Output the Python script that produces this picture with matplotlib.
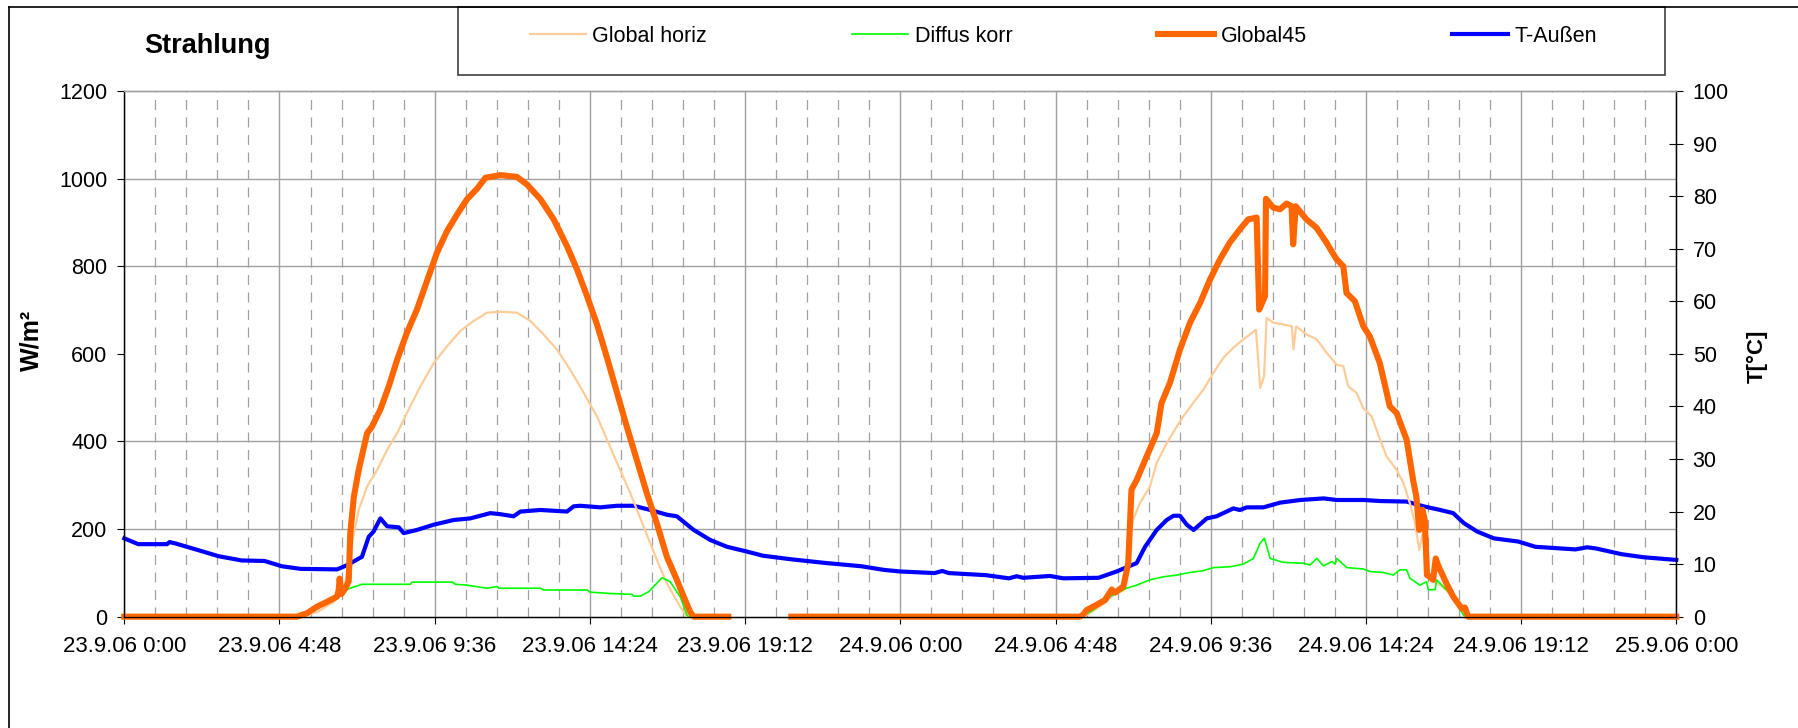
import numpy as np
import matplotlib
matplotlib.use("Agg")
import matplotlib.pyplot as plt
from matplotlib.lines import Line2D
from matplotlib.patches import Rectangle
from matplotlib.ticker import FixedLocator, MultipleLocator

plt.rcParams['font.family'] = ['Liberation Sans', 'DejaVu Sans']

nan = np.nan

# (hours since 23.9.06 0:00, W/m²)
global_horiz = [
    (0.0, 0), (5.5, 0), (6.0, 12), (6.5, 35), (6.8, 60), (6.99, 150), (7.25, 244),
    (7.51, 297), (7.82, 335), (8.13, 381), (8.44, 419), (8.74, 465), (9.16, 526),
    (9.57, 579), (9.98, 617), (10.39, 652), (10.80, 675), (11.22, 694), (11.63, 696),
    (12.14, 694), (12.56, 675), (12.97, 644), (13.38, 610), (13.79, 564), (14.21, 511),
    (14.62, 457), (14.93, 404), (15.24, 351), (15.65, 282), (16.06, 206), (16.47, 130),
    (16.78, 76), (17.19, 23), (17.40, 0), (18.68, 0), (19.6, nan), (20.63, 0),
    (29.6, 0), (29.8, 5), (30.3, 30), (30.6, 50), (30.9, 60), (31.08, 120), (31.14, 200),
    (31.2, 222), (31.41, 259), (31.72, 297), (31.93, 351), (32.24, 396), (32.55, 434),
    (32.75, 457), (33.06, 488), (33.37, 518), (33.68, 556), (33.99, 591), (34.30, 614),
    (34.61, 633), (35.0, 655), (35.13, 522), (35.25, 549), (35.33, 682), (35.54, 671),
    (35.85, 667), (36.11, 663), (36.16, 610), (36.24, 663), (36.57, 644), (36.88, 633),
    (37.19, 602), (37.50, 575), (37.70, 572), (37.85, 526), (38.11, 511), (38.32, 476),
    (38.58, 457), (38.84, 404), (39.04, 366), (39.35, 335), (39.56, 305), (39.76, 259),
    (39.92, 213), (40.05, 152), (40.16, 191), (40.28, 99), (40.49, 84), (40.89, 61),
    (41.2, 30), (41.45, 4), (41.55, 0), (48.0, 0),
]

diffus_korr = [
    (0.0, 0), (5.55, 0), (5.9, 15), (6.2, 30), (6.5, 45), (6.68, 57), (6.99, 65),
    (7.35, 74), (8.85, 74), (8.90, 79), (10.14, 79), (10.24, 74), (10.60, 72),
    (11.22, 65), (11.53, 69), (11.58, 65), (12.87, 65), (12.97, 61), (14.31, 61),
    (14.41, 56), (15.03, 53), (15.70, 51), (15.75, 47), (15.96, 47), (16.22, 57),
    (16.63, 89), (16.88, 80), (17.19, 46), (17.40, 4), (17.45, 0), (18.68, 0),
    (19.6, nan), (20.63, 0), (29.6, 0), (29.9, 12), (30.2, 28), (30.48, 46), (31.0, 65),
    (31.31, 72), (31.72, 84), (32.13, 91), (32.55, 95), (32.96, 101), (33.37, 105),
    (33.68, 112), (34.2, 114), (34.61, 120), (34.92, 133), (35.13, 168), (35.26, 179),
    (35.44, 133), (35.85, 124), (36.47, 122), (36.67, 118), (36.88, 133), (37.09, 116),
    (37.35, 126), (37.45, 120), (37.5, 133), (37.81, 112), (38.32, 109), (38.53, 103),
    (38.94, 101), (39.25, 95), (39.45, 107), (39.66, 107), (39.76, 88), (40.07, 72),
    (40.28, 80), (40.33, 61), (40.54, 62), (40.59, 84), (41.0, 53), (41.42, 4),
    (41.5, 0), (48.0, 0),
]

global45 = [
    (0.0, 0), (5.34, 0), (5.65, 8), (5.96, 23), (6.27, 34), (6.48, 42), (6.58, 46),
    (6.63, 60), (6.66, 87), (6.72, 52), (6.84, 65), (6.94, 81), (6.99, 191), (7.10, 274),
    (7.25, 335), (7.51, 419), (7.66, 434), (7.92, 473), (8.18, 526), (8.44, 587),
    (8.74, 648), (9.05, 701), (9.36, 766), (9.67, 831), (9.98, 880), (10.29, 918),
    (10.60, 953), (10.91, 977), (11.17, 1002), (11.63, 1008), (12.14, 1004), (12.45, 987),
    (12.87, 953), (13.28, 907), (13.69, 846), (14.00, 793), (14.31, 732), (14.62, 667),
    (14.93, 591), (15.24, 511), (15.54, 434), (15.85, 358), (16.16, 282), (16.47, 213),
    (16.78, 137), (17.09, 84), (17.30, 46), (17.50, 11), (17.61, 0), (18.68, 0),
    (19.6, nan), (20.63, 0), (29.55, 0), (29.66, 5), (29.76, 15), (30.07, 27),
    (30.33, 38), (30.54, 62), (30.64, 55), (30.90, 69), (31.05, 122), (31.15, 290),
    (31.31, 312), (31.62, 366), (31.93, 419), (32.08, 488), (32.34, 534), (32.65, 610),
    (32.96, 671), (33.27, 716), (33.58, 770), (33.89, 816), (34.19, 854), (34.50, 884),
    (34.76, 907), (35.02, 911), (35.10, 701), (35.28, 732), (35.31, 954), (35.53, 934),
    (35.74, 930), (35.95, 943), (36.10, 937), (36.15, 850), (36.23, 937), (36.56, 907),
    (36.87, 888), (37.18, 854), (37.49, 816), (37.70, 800), (37.80, 739), (38.06, 720),
    (38.32, 663), (38.52, 640), (38.83, 579), (39.14, 480), (39.35, 465), (39.66, 404),
    (39.86, 312), (39.96, 274), (40.05, 198), (40.15, 244), (40.22, 221), (40.29, 95),
    (40.38, 91), (40.48, 84), (40.56, 133), (40.63, 118), (40.89, 76), (41.10, 46),
    (41.36, 19), (41.46, 21), (41.56, 0), (48.0, 0),
]

# (hours, °C)
t_aussen = [
    (0.0, 14.9), (0.43, 13.8), (1.32, 13.8), (1.40, 14.2), (1.6, 13.9), (2.21, 12.8),
    (2.92, 11.5), (3.63, 10.7), (4.34, 10.6), (4.87, 9.6), (5.45, 9.1), (6.58, 9.0),
    (6.89, 9.8), (7.35, 11.4), (7.56, 15.2), (7.71, 16.2), (7.92, 18.7), (8.13, 17.2),
    (8.49, 17.0), (8.64, 15.9), (9.05, 16.5), (9.57, 17.5), (10.19, 18.4), (10.70, 18.7),
    (11.32, 19.7), (11.63, 19.5), (12.04, 19.1), (12.25, 20.0), (12.87, 20.3),
    (13.69, 20.0), (13.90, 21.0), (14.10, 21.1), (14.72, 20.8), (15.24, 21.1),
    (15.75, 21.1), (16.27, 20.3), (16.78, 19.4), (17.09, 19.1), (17.61, 16.5),
    (18.12, 14.6), (18.64, 13.3), (19.25, 12.4), (19.75, 11.6), (20.65, 10.9),
    (21.72, 10.2), (22.79, 9.6), (23.5, 8.9), (24.0, 8.6), (25.06, 8.3), (25.3, 8.7),
    (25.5, 8.3), (26.65, 7.9), (27.36, 7.3), (27.6, 7.7), (27.8, 7.4), (28.63, 7.75),
    (29.04, 7.3), (30.13, 7.4), (30.69, 8.6), (31.31, 10.2), (31.57, 13.3), (31.93, 16.5),
    (32.24, 18.4), (32.45, 19.2), (32.65, 19.2), (32.86, 17.5), (33.07, 16.5),
    (33.48, 18.7), (33.78, 19.1), (33.99, 19.7), (34.3, 20.6), (34.5, 20.3), (34.72, 20.8),
    (35.23, 20.8), (35.75, 21.7), (36.37, 22.2), (37.09, 22.5), (37.5, 22.2), (38.33, 22.2),
    (38.85, 22.0), (39.66, 21.9), (40.18, 21.0), (40.7, 20.3), (41.1, 19.7), (41.43, 17.8),
    (41.84, 16.2), (42.36, 14.9), (43.11, 14.3), (43.64, 13.3), (44.88, 12.8),
    (45.24, 13.2), (45.5, 13.0), (46.3, 11.9), (47.0, 11.3), (48.0, 10.8),
]

x_tick_hours = [0, 4.8, 9.6, 14.4, 19.2, 24, 28.8, 33.6, 38.4, 43.2, 48]
x_tick_labels = ["23.9.06 0:00", "23.9.06 4:48", "23.9.06 9:36", "23.9.06 14:24",
                 "23.9.06 19:12", "24.9.06 0:00", "24.9.06 4:48", "24.9.06 9:36",
                 "24.9.06 14:24", "24.9.06 19:12", "25.9.06 0:00"]
w_ticks = [0, 200, 400, 600, 800, 1000, 1200]
t_ticks = [0, 10, 20, 30, 40, 50, 60, 70, 80, 90, 100]

series_labels = ["Global horiz", "Diffus korr", "Global45", "T-Außen"]
series_colors = ["#FFCC99", "#00FF00", "#FF6600", "#0000FF"]

FIG_W, FIG_H = 1798, 728
fig = plt.figure(figsize=(FIG_W / 100, FIG_H / 100), dpi=100)


def fx(px):
    return px / FIG_W


def fy(py):
    return 1 - py / FIG_H


L, R, T, B = 124.3, 1676.3, 91.0, 616.7
grid_c = "#A0A0A0"

# temperature axes underneath (carries x axis and grid), radiation axes on top
axT = fig.add_axes([fx(L), fy(B), (R - L) / FIG_W, (B - T) / FIG_H])
axW = axT.twinx()
axW.yaxis.tick_left()
axW.yaxis.set_label_position('left')
axT.yaxis.tick_right()
axT.yaxis.set_label_position('right')

axT.set_xlim(0, 48)
axT.set_ylim(t_ticks[0], t_ticks[-1])
axW.set_ylim(w_ticks[0], w_ticks[-1])

axT.xaxis.set_major_locator(FixedLocator(x_tick_hours))
axT.set_xticklabels(x_tick_labels)
axT.xaxis.set_minor_locator(MultipleLocator(0.96))
axT.yaxis.set_major_locator(FixedLocator(t_ticks))
scale = t_ticks[-1] / w_ticks[-1]
axT.yaxis.set_minor_locator(FixedLocator([w * scale for w in w_ticks]))
axW.yaxis.set_major_locator(FixedLocator(w_ticks))

axT.grid(which='major', axis='x', color=grid_c, lw=1.0)
axT.grid(which='minor', axis='x', color=grid_c, lw=0.9, linestyle=(0, (8, 6)))
axT.grid(which='minor', axis='y', color=grid_c, lw=1.0)

axT.tick_params(axis='x', which='major', direction='out', length=4.8, width=0.8,
                labelsize=16, pad=9, colors='black')
axT.tick_params(axis='x', which='minor', length=0)
axT.tick_params(axis='y', which='major', direction='inout', length=9.6, width=0.8,
                labelsize=15.5, pad=7, right=True, left=False)
axT.tick_params(axis='y', which='minor', length=0)
axW.tick_params(axis='y', direction='out', length=4.8, width=0.8, labelsize=15.5,
                pad=7.4, left=True, right=False)

for ax in (axT, axW):
    ax.spines['top'].set_color(grid_c)
    ax.spines['top'].set_linewidth(1.0)
    for s in ('left', 'right', 'bottom'):
        ax.spines[s].set_color('black')
        ax.spines[s].set_linewidth(0.9)
    ax.patch.set_visible(False)
axT.patch.set_visible(True)
axT.patch.set_facecolor('white')

h, v = zip(*t_aussen)
ln_t, = axT.plot(h, v, color=series_colors[3], lw=3.0, solid_joinstyle='round',
                 clip_on=False)
h, v = zip(*global_horiz)
ln_gh, = axW.plot(h, v, color=series_colors[0], lw=1.6, solid_joinstyle='round',
                  clip_on=False)
h, v = zip(*diffus_korr)
ln_dk, = axW.plot(h, v, color=series_colors[1], lw=1.2, solid_joinstyle='round',
                  clip_on=False)
h, v = zip(*global45)
ln_g45, = axW.plot(h, v, color=series_colors[2], lw=4.4, solid_joinstyle='round',
                   clip_on=False)

# chart title and axis titles
fig.text(fx(144), fy(53.3), "Strahlung", fontsize=19.5, fontweight='bold',
         ha='left', va='baseline')
fig.text(fx(31), fy(340), "W/m²", fontsize=18, fontweight='bold', rotation=90,
         ha='center', va='center')
fig.text(fx(1757), fy(356), "T[°C]", fontsize=16, fontweight='bold', rotation=90,
         ha='center', va='center')

# chart area border (left and top edges)
fig.add_artist(Line2D([fx(9.3), fx(9.3)], [fy(6.7), 0], transform=fig.transFigure,
                      color='black', lw=1.2))
fig.add_artist(Line2D([fx(9.3), 1], [fy(6.7), fy(6.7)], transform=fig.transFigure,
                      color='black', lw=1.2))

# legend box
fig.add_artist(Rectangle((fx(457.7), fy(74.7)), (1664.6 - 457.7) / FIG_W,
                         (74.7 - 6.7) / FIG_H, transform=fig.transFigure,
                         fill=False, edgecolor='#404040', lw=1.2))
fig.legend([ln_gh, ln_dk, ln_g45, ln_t], series_labels, loc='center left',
           bbox_to_anchor=(fx(530), fy(36)), ncol=4, frameon=False, fontsize=15.5,
           handlelength=2.6, handletextpad=0.3, columnspacing=6.75, borderpad=0,
           borderaxespad=0)

fig.savefig("out.png", dpi=100)
